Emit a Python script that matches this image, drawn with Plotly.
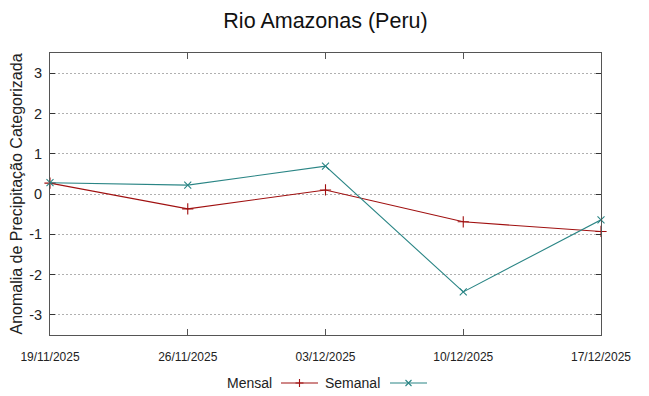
import plotly.graph_objects as go

dates = ["2025-11-19", "2025-11-26", "2025-12-03", "2025-12-10", "2025-12-17"]
tick_labels = ["19/11/2025", "26/11/2025", "03/12/2025", "10/12/2025", "17/12/2025"]
y_ticks = [-3, -2, -1, 0, 1, 2, 3]
y_tick_labels = ["-3", "-2", "-1", "0", "1", "2", "3"]
mensal = [0.27, -0.37, 0.10, -0.69, -0.93]
semanal = [0.28, 0.22, 0.69, -2.43, -0.64]

RED = "#a01010"
TEAL = "#2a8585"

# page body has an 8px default margin, so the figure is drawn 8px smaller
W, H = 641, 388

fig = go.Figure()
fig.add_trace(go.Scatter(x=dates, y=mensal, mode="lines+markers", name="Mensal",
                         line=dict(color=RED, width=1.1),
                         marker=dict(symbol="cross-thin", size=8, line=dict(color=RED, width=1.1)),
                         showlegend=False, cliponaxis=False))
fig.add_trace(go.Scatter(x=dates, y=semanal, mode="lines+markers", name="Semanal",
                         line=dict(color=TEAL, width=1.1),
                         marker=dict(symbol="x-thin", size=7, line=dict(color=TEAL, width=1.1)),
                         showlegend=False, cliponaxis=False))

fig.update_layout(
    width=W, height=H,
    margin=dict(l=42, r=48, t=45, b=61, autoexpand=False),
    paper_bgcolor="white", plot_bgcolor="white",
    font=dict(family="Liberation Sans, Arial, sans-serif", color="#222"),
    title=dict(text="Rio Amazonas (Peru)", x=0.5, xanchor="center",
               xref="paper", yref="container", y=1 - 12 / H, yanchor="middle",
               font=dict(size=21.5, color="#111")),
    xaxis=dict(type="date", range=[dates[0], dates[-1]], tickvals=dates, ticktext=tick_labels,
               automargin=False,
               showgrid=False, showline=True, linecolor="#555", linewidth=1, mirror="ticks",
               ticks="inside", ticklen=6, tickcolor="#555",
               tickfont=dict(family="Liberation Sans", size=12, color="#222"),
               ticklabelstandoff=11),
    yaxis=dict(range=[-3.5, 3.5], tickvals=y_ticks, ticktext=y_tick_labels, zeroline=False,
               automargin=False,
               showgrid=True, gridcolor="#b0b0b0", griddash="2px,2px", gridwidth=1,
               showline=True, linecolor="#555", linewidth=1, mirror="ticks",
               ticks="inside", ticklen=5, tickcolor="#333",
               tickfont=dict(size=14.5, color="#222"), ticklabelstandoff=4,
               title=dict(text="Anomalia de Precipitação Categorizada", font=dict(size=16, color="#222"),
                          standoff=5)),
)

# manual legend (text before sample, gnuplot style)
def px(v):
    return (v - 50) / 551

ly = (335 - 383) / 282
fig.add_annotation(xref="paper", yref="paper", x=px(274), y=ly, text="Mensal",
                   showarrow=False, xanchor="right", yanchor="middle", font=dict(size=14, color="#222"))
fig.add_annotation(xref="paper", yref="paper", x=px(382), y=ly, text="Semanal",
                   showarrow=False, xanchor="right", yanchor="middle", font=dict(size=14, color="#222"))
fig.add_shape(type="line", xref="paper", yref="paper", x0=px(281), x1=px(318), y0=ly, y1=ly,
              line=dict(color=RED, width=1.1))
fig.add_shape(type="line", xref="paper", yref="paper", x0=px(390), x1=px(427), y0=ly, y1=ly,
              line=dict(color=TEAL, width=1.1))
fig.add_shape(type="path", xref="paper", yref="paper", xsizemode="pixel", ysizemode="pixel",
              xanchor=px(299.5), yanchor=ly, path="M-4,0 L4,0 M0,-4 L0,4",
              line=dict(color=RED, width=1.1))
fig.add_shape(type="path", xref="paper", yref="paper", xsizemode="pixel", ysizemode="pixel",
              xanchor=px(408.5), yanchor=ly, path="M-3,-3 L3,3 M-3,3 L3,-3",
              line=dict(color=TEAL, width=1.1))

fig.write_html("out.html")
